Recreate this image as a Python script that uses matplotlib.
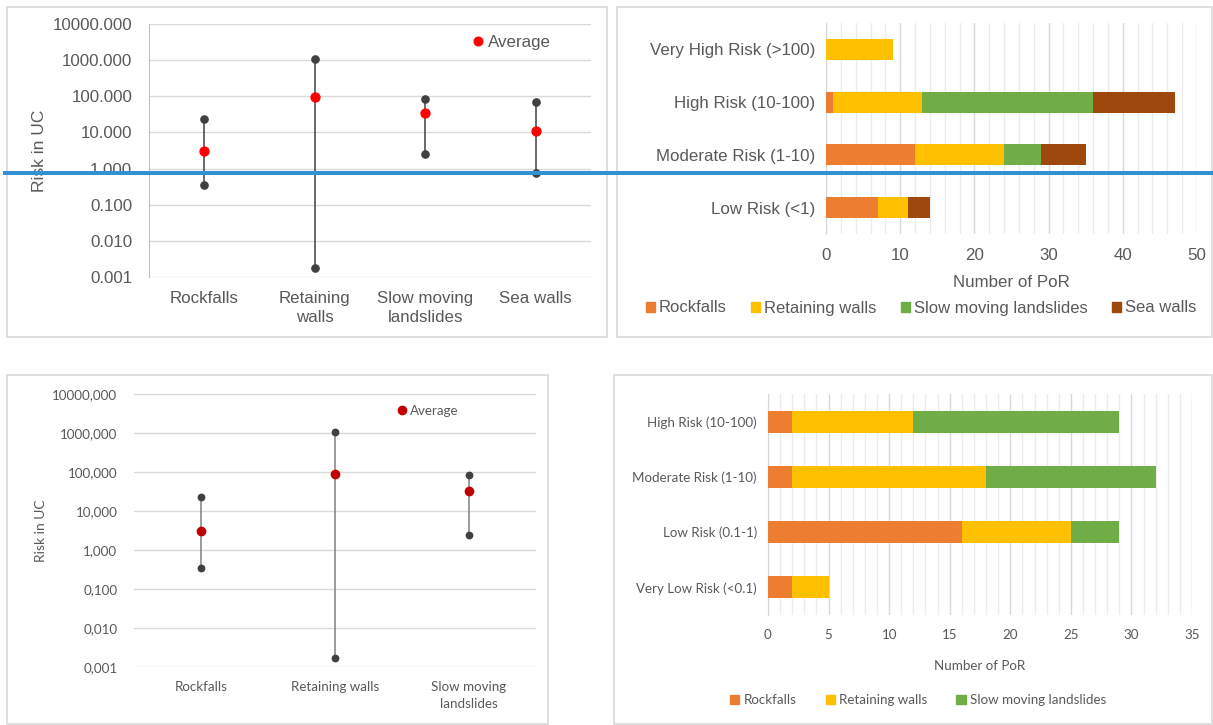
import numpy as np
import matplotlib
matplotlib.use("Agg")
import matplotlib.pyplot as plt
from matplotlib.patches import Rectangle, Patch
from matplotlib.lines import Line2D

# ------------------- Datos -------------------
# Rango de riesgo (min / promedio / max) por tipo de elemento
top_cats = ["Rockfalls", "Retaining\nwalls", "Slow moving\nlandslides", "Sea walls"]
top_min = [0.35, 0.0018, 2.5, 0.76]
top_avg = [3.0, 93.0, 34.0, 10.7]
top_max = [23.5, 1070.0, 85.0, 70.0]

bot_cats = ["Rockfalls", "Retaining walls", "Slow moving\nlandslides"]
bot_min = [0.35, 0.0017, 2.45]
bot_avg = [3.0, 91.0, 33.5]
bot_max = [23.0, 1070.0, 85.0]

decades = [0.001, 0.01, 0.1, 1, 10, 100, 1000, 10000]
top_ylabels = ["0.001", "0.010", "0.100", "1.000", "10.000", "100.000", "1000.000", "10000.000"]
bot_ylabels = ["0,001", "0,010", "0,100", "1,000", "10,000", "100,000", "1000,000", "10000,000"]

# Número de PoR por clase de riesgo (de arriba a abajo)
top_classes = ["Very High Risk (>100)", "High Risk (10-100)", "Moderate Risk (1-10)", "Low Risk (<1)"]
top_rock = [0, 1, 12, 7]
top_ret = [9, 12, 12, 4]
top_slow = [0, 23, 5, 0]
top_sea = [0, 11, 6, 3]

bot_classes = ["High Risk (10-100)", "Moderate Risk (1-10)", "Low Risk (0.1-1)", "Very Low Risk (<0.1)"]
bot_rock = [2, 2, 16, 2]
bot_ret = [10, 16, 9, 3]
bot_slow = [17, 14, 4, 0]

# ------------------- Estilo -------------------
W, H = 1213, 725
C_ROCK, C_RET, C_SLOW, C_SEA = "#ED7D31", "#FFC000", "#70AD47", "#9E480E"
TXT = "#595959"
GRID = "#D9D9D9"
F_TOP = "Liberation Sans"
F_BOT = "Lato"

fig = plt.figure(figsize=(W / 100, H / 100), dpi=100)
fig.patch.set_facecolor("white")


def box(x0, y0, x1, y1):
    # caja en pixeles -> coordenadas de figura
    return [x0 / W, 1 - y1 / H, (x1 - x0) / W, (y1 - y0) / H]


def frame(x0, y0, x1, y1):
    fig.add_artist(Rectangle((x0 / W, 1 - y1 / H), (x1 - x0) / W, (y1 - y0) / H,
                             transform=fig.transFigure, fill=False,
                             edgecolor="#D9D9D9", lw=1.2, zorder=0))


frame(7, 7, 607, 337)
frame(617, 7, 1212, 337)
frame(7, 375, 548, 724)
frame(614, 375, 1212, 724)


def range_plot(ax, cats, vmin, vavg, vmax, ylabels, font, fs, red, line_c, ms_end, ms_avg,
               left_spine, lsp):
    x = np.arange(len(cats))
    for i in x:
        ax.plot([i, i], [vmin[i], vmax[i]], color=line_c, lw=1.1, zorder=2)
    ax.plot(x, vmin, "o", color="#404040", ms=ms_end, zorder=3)
    ax.plot(x, vmax, "o", color="#404040", ms=ms_end, zorder=3)
    ax.plot(x, vavg, "o", color=red, ms=ms_avg, zorder=4)
    ax.set_yscale("log")
    ax.set_ylim(0.001, 10000)
    ax.set_xlim(-0.5, len(cats) - 0.5)
    ax.set_yticks(decades)
    ax.set_yticklabels(ylabels, fontfamily=font, fontsize=fs, color=TXT)
    ax.minorticks_off()
    ax.set_xticks(x)
    ax.set_xticklabels(cats, fontfamily=font, fontsize=fs, color=TXT, linespacing=lsp)
    ax.tick_params(length=0, pad=10)
    ax.tick_params(axis="y", pad=12)
    ax.grid(axis="y", color=GRID, lw=1)
    ax.set_axisbelow(True)
    for s in ["top", "right", "bottom"]:
        ax.spines[s].set_visible(False)
    ax.spines["left"].set_visible(left_spine)
    ax.spines["left"].set_color("#BFBFBF")


def stacked(ax, classes, series, colors, xmax, major, minor, font, fs):
    y = np.arange(len(classes))[::-1]
    left = np.zeros(len(classes))
    for vals, c in zip(series, colors):
        ax.barh(y, vals, left=left, height=0.4, color=c, zorder=3)
        left += np.array(vals)
    ax.set_ylim(-0.5, len(classes) - 0.5)
    ax.set_xlim(0, xmax)
    ax.set_yticks(y)
    ax.set_yticklabels(classes, fontfamily=font, fontsize=fs, color=TXT)
    ax.set_xticks(np.arange(0, xmax + 1, major))
    ax.set_xticks(np.arange(0, xmax + 1, minor), minor=True)
    for lab in ax.get_xticklabels():
        lab.set_fontfamily(font)
        lab.set_fontsize(fs)
        lab.set_color(TXT)
    ax.tick_params(which="both", length=0)
    ax.tick_params(axis="x", pad=10)
    ax.tick_params(axis="y", pad=8)
    ax.grid(axis="x", which="major", color=GRID, lw=1)
    ax.grid(axis="x", which="minor", color="#ECECEC", lw=1)
    ax.set_axisbelow(True)
    for s in ["top", "right", "bottom"]:
        ax.spines[s].set_visible(False)
    ax.spines["left"].set_color(GRID)


# ------------------- Arriba izquierda -------------------
ax1 = fig.add_axes(box(149, 24, 591, 277))
range_plot(ax1, top_cats, top_min, top_avg, top_max, top_ylabels, F_TOP, 12.2,
           "#FF0000", "#404040", 5.2, 6.4, True, 1.35)
ax1.set_ylabel("Risk in UC", fontfamily=F_TOP, fontsize=12.5, color=TXT)
ax1.yaxis.set_label_coords((47 - 149) / 442, 0.5)
ax1.legend(handles=[Line2D([], [], ls="", marker="o", color="#FF0000", ms=6.2)],
           labels=["Average"], loc="center left", bbox_to_anchor=(464 / W, 1 - 42 / H),
           bbox_transform=fig.transFigure, frameon=False, handlelength=0.6,
           handletextpad=0.3, borderpad=0,
           prop={"family": F_TOP, "size": 12.2}, labelcolor=TXT)

# ------------------- Arriba derecha -------------------
ax2 = fig.add_axes(box(826, 23, 1197, 234))
stacked(ax2, top_classes, [top_rock, top_ret, top_slow, top_sea],
        [C_ROCK, C_RET, C_SLOW, C_SEA], 50, 10, 2, F_TOP, 12.2)
ax2.set_xlabel("Number of PoR", fontfamily=F_TOP, fontsize=12.2, color=TXT, labelpad=9)
fig.legend(handles=[Patch(color=c) for c in [C_ROCK, C_RET, C_SLOW, C_SEA]],
           labels=["Rockfalls", "Retaining walls", "Slow moving landslides", "Sea walls"],
           loc="center", bbox_to_anchor=(921 / W, 1 - 308 / H), ncol=4, frameon=False,
           handlelength=0.55, handleheight=0.55, handletextpad=0.2, columnspacing=1.5,
           prop={"family": F_TOP, "size": 12.0}, labelcolor=TXT)

# ------------------- Abajo izquierda -------------------
ax3 = fig.add_axes(box(134, 394, 536, 667))
range_plot(ax3, bot_cats, bot_min, bot_avg, bot_max, bot_ylabels, F_BOT, 9.6,
           "#C00000", "#808080", 4.6, 6.0, False, 1.55)
ax3.set_ylabel("Risk in UC", fontfamily=F_BOT, fontsize=10, color=TXT)
ax3.yaxis.set_label_coords((47 - 134) / 402, 0.5)
ax3.legend(handles=[Line2D([], [], ls="", marker="o", color="#C00000", ms=6.0)],
           labels=["Average"], loc="center left", bbox_to_anchor=(391 / W, 1 - 411 / H),
           bbox_transform=fig.transFigure, frameon=False, handlelength=0.6,
           handletextpad=0.3, borderpad=0,
           prop={"family": F_BOT, "size": 9.6}, labelcolor=TXT)

# ------------------- Abajo derecha -------------------
ax4 = fig.add_axes(box(768, 394, 1192, 615))
stacked(ax4, bot_classes, [bot_rock, bot_ret, bot_slow], [C_ROCK, C_RET, C_SLOW],
        35, 5, 1, F_BOT, 9.6)
ax4.set_xlabel("Number of PoR", fontfamily=F_BOT, fontsize=9.6, color=TXT, labelpad=14)
fig.legend(handles=[Patch(color=c) for c in [C_ROCK, C_RET, C_SLOW]],
           labels=["Rockfalls", "Retaining walls", "Slow moving landslides"],
           loc="center", bbox_to_anchor=(918 / W, 1 - 700 / H), ncol=3, frameon=False,
           handlelength=0.7, handleheight=0.7, handletextpad=0.3, columnspacing=2.2,
           prop={"family": F_BOT, "size": 9.6}, labelcolor=TXT)

# Línea horizontal azul sobre la fila superior
fig.add_artist(Line2D([5 / W, 1], [1 - 172.5 / H, 1 - 172.5 / H], transform=fig.transFigure,
                      color="#3191D3", lw=2.9, zorder=10))

fig.savefig("out.png", dpi=100, facecolor="white")
